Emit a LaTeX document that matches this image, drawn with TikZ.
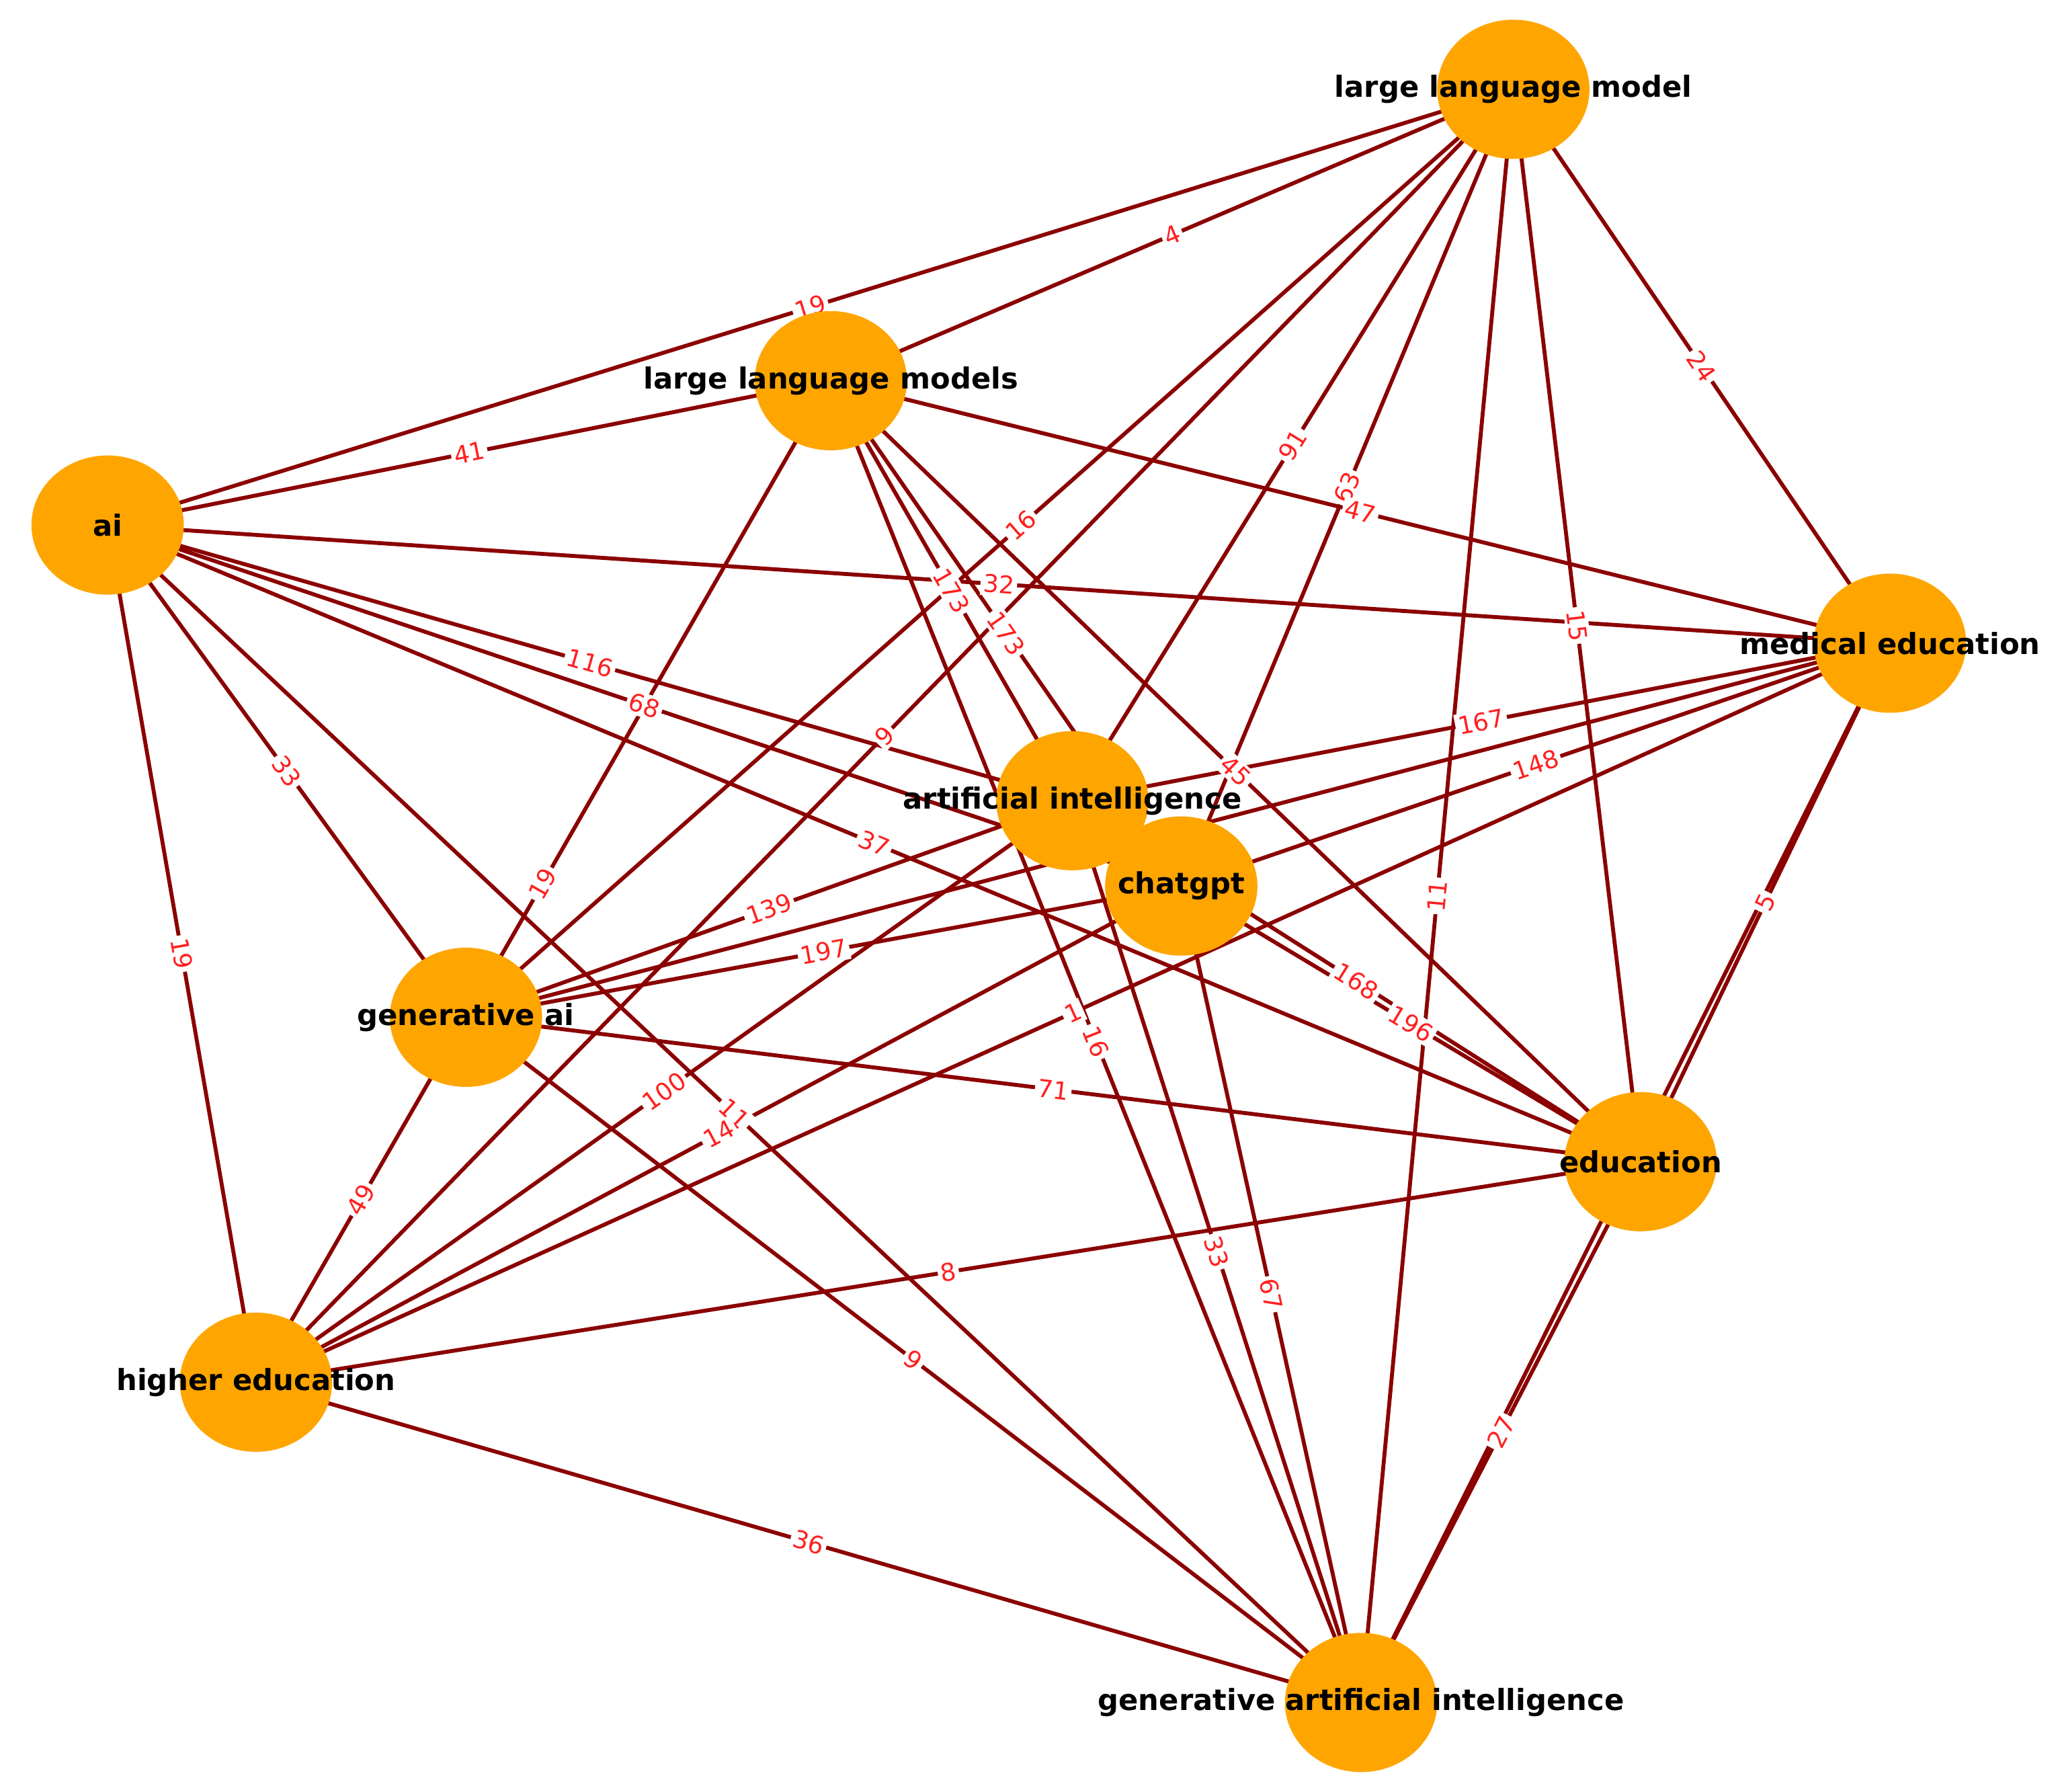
\documentclass[tikz,border=0pt]{standalone}
\usepackage{fontspec}
\setmainfont{DejaVu Sans}
\usetikzlibrary{shapes.geometric,backgrounds}
\definecolor{nodeor}{HTML}{FFA500}
\definecolor{edgec}{HTML}{8B0000}
\definecolor{labc}{HTML}{FF2020}
\tikzset{
  nd/.style={ellipse,fill=nodeor,minimum width=1.16cm,minimum height=1.06cm,inner sep=0pt},
  nt/.style={font=\fontsize{6.3}{7}\selectfont\bfseries,text=black,inner sep=0pt},
  ed/.style={draw=edgec,line width=0.85pt},
  el/.style={font=\fontsize{5.3}{6}\selectfont,text=labc,fill=white,inner sep=0.6pt,sloped},
}
\begin{document}
\begin{tikzpicture}[x=0.01cm,y=-0.01cm]
\useasboundingbox (0,0) rectangle (1568,1365);
\node[nd] (llm) at (1153,68) {};
\node[nd] (llms) at (633,290) {};
\node[nd] (ai) at (82,400) {};
\node[nd] (med) at (1440,490) {};
\node[nd] (art) at (817,610) {};
\node[nd] (chat) at (900,675) {};
\node[nd] (gen) at (355,775) {};
\node[nd] (edu) at (1250,885) {};
\node[nd] (he) at (195,1053) {};
\node[nd] (gai) at (1037,1297) {};
\node[nt] (llm-t) at (llm) {large language model};
\node[nt] (llms-t) at (llms) {large language models};
\node[nt] (ai-t) at (ai) {ai};
\node[nt] (med-t) at (med) {medical education};
\node[nt] (art-t) at (art) {artificial intelligence};
\node[nt] (chat-t) at (chat) {chatgpt};
\node[nt] (gen-t) at (gen) {generative ai};
\node[nt] (edu-t) at (edu) {education};
\node[nt] (he-t) at (he) {higher education};
\node[nt] (gai-t) at (gai) {generative artificial intelligence};
\begin{scope}[on background layer]
\def\edgelist{ai/llm/19/0.5, ai/llms/41/0.5, ai/med/32/0.5, ai/art/116/0.5,
 ai/chat/68/0.5, ai/edu/37/0.5, ai/gen/33/0.5, ai/he/19/0.5, ai/gai/11/0.5,
 llm/llms/4/0.5, llm/med/24/0.5, llm/gen/16/0.47, llm/he/9/0.5, llm/art/91/0.5,
 llm/chat/63/0.5, llm/edu/15/0.5, llm/gai/11/0.5, llms/med/47/0.5, llms/art/173/0.5,
 llms/chat/173/0.5, llms/edu/45/0.5, llms/gai/16/0.5, llms/gen/19/0.79,
 med/art/167/0.5, med/chat/148/0.5, med/he/1/0.5, med/edu/5/0.5,
 art/gen/139/0.5, art/he/100/0.5, art/edu/168/0.5, art/gai/33/0.5,
 chat/gen/197/0.5, chat/he/14/0.5, chat/edu/196/0.5, chat/gai/67/0.5,
 gen/edu/71/0.5, gen/he/49/0.5, gen/gai/9/0.5, he/edu/8/0.5, he/gai/36/0.5,
 edu/gai/27/0.5}
\foreach \a/\b/\l/\p in \edgelist {\draw[ed] (\a.center) -- (\b.center);}
\draw[ed] (med.center) -- (gen.center);
\draw[ed] (med.center) -- (gai.center);
\draw[ed] (art.center) -- (chat.center);
\foreach \a/\b/\l/\p in \edgelist {\path (\a.center) -- node[el,pos=\p]{\l} (\b.center);}
\end{scope}
\end{tikzpicture}
\end{document}
